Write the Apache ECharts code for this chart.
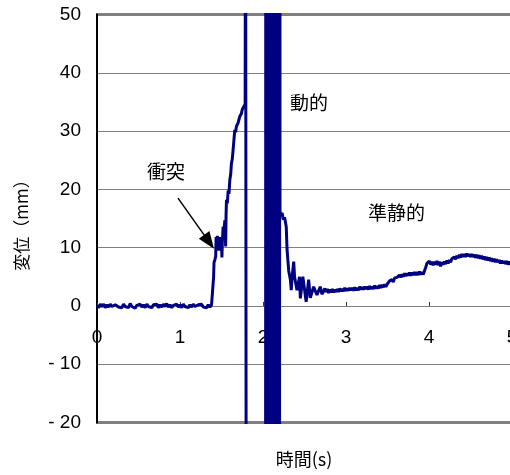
<!DOCTYPE html>
<html><head><meta charset="utf-8">
<script src="https://cdn.jsdelivr.net/npm/echarts@6/dist/echarts.min.js"></script>
<style>html,body{margin:0;padding:0;background:#fff}#c{width:510px;height:475px}</style>
</head><body><div id="c"></div>
<script>
// x: time (s), y: displacement (mm)
const xTicks = [0, 1, 2, 3, 4, 5];
const yTicks = [-20, -10, 0, 10, 20, 30, 40, 50];
const xName = '時間(s)';
const yName = '変位（mm）';
const notes = ['衝突', '動的', '準静的'];

// phase 1: before impact
const baselinePhase = [[0,0.1],[0.02,-0.3],[0.04,0.3],[0.06,-0.1],[0.08,0.3],[0.10,-0.3],[0.12,0.2],[0.14,-0.2],[0.16,0.3],[0.18,-0.1],[0.2,-0.4],[0.22,0.2],[0.24,0.3],[0.26,-0.2],[0.28,0.1],[0.30,-0.3],[0.32,0.3],[0.34,-0.1],[0.36,0.2],[0.38,-0.3],[0.4,0.4],[0.42,-0.1],[0.44,0.2],[0.46,-0.4],[0.48,0.1],[0.50,-0.2],[0.52,0.3],[0.54,-0.2],[0.56,0.2],[0.58,-0.3],[0.6,0.3],[0.62,-0.1],[0.64,0.2],[0.66,-0.3],[0.68,0.2],[0.70,-0.1],[0.72,0.3],[0.74,-0.3],[0.76,0.2],[0.78,-0.2],[0.8,0.3],[0.82,-0.1],[0.84,0.4],[0.86,-0.2],[0.88,0.2],[0.90,-0.3],[0.92,0.1],[0.94,-0.2],[0.96,0.3],[0.98,-0.2],[1.0,0.2],[1.02,-0.3],[1.04,0.3],[1.06,-0.1],[1.08,0.2],[1.10,-0.3],[1.12,0.2],[1.14,-0.2],[1.16,0.3],[1.18,-0.1],[1.2,-0.4],[1.22,0.2],[1.24,-0.1],[1.26,0.3],[1.28,-0.2],[1.30,0.1],[1.32,-0.3],[1.34,0.2],[1.36,-0.2],[1.38,0.2],[1.395,-0.1]];
// phase 2: impact rise
const impactPhase = [[1.40,0.2],[1.405,5],[1.41,7.5],[1.42,7.9],[1.43,8.5],[1.435,11.8],[1.44,10.6],[1.45,12.0],[1.46,10.4],[1.47,9.5],[1.48,11.8],[1.49,10.3],[1.50,11.6],[1.505,8.3],[1.51,11.0],[1.52,13.6],[1.53,12.8],[1.54,14.7],[1.55,10.2],[1.555,15.5],[1.56,18.2],[1.57,17.6],[1.58,19.8],[1.59,19.2],[1.60,21.6],[1.61,22.5],[1.62,24.5],[1.63,25.2],[1.64,26.8],[1.65,28.5],[1.66,30.2],[1.67,29.8],[1.68,30.8],[1.69,30.6],[1.70,31.4],[1.71,31.6],[1.72,32.5],[1.73,32.8],[1.74,33.0],[1.75,33.7],[1.76,33.6],[1.77,34.2],[1.785,34.6],[1.79,90],[1.80,-90],[1.9,-90],[2.03,-90]];
// phase 3: dynamic oscillation (off-scale)
const dynamicPhase = [[2.035,150],[2.041,-150],[2.047,150],[2.053,-150],[2.059,150],[2.065,-150],[2.071,150],[2.077,-150],[2.083,150],[2.089,-150],[2.095,150],[2.101,-150],[2.107,150],[2.113,-150],[2.119,150],[2.125,-150],[2.131,150],[2.137,-150],[2.143,150],[2.149,-150],[2.155,150],[2.161,-150],[2.167,150],[2.173,-150],[2.179,150],[2.185,-150],[2.191,150],[2.197,-150],[2.203,150]];
// phase 4: decay and quasi-static
const quasiStaticPhase = [[2.205,16.2],[2.22,15.5],[2.23,16.0],[2.245,14.8],[2.26,15.2],[2.28,13.6],[2.29,9.6],[2.31,6.0],[2.33,4.5],[2.34,2.7],[2.35,4.8],[2.37,7.6],[2.38,5.0],[2.41,2.7],[2.44,5.0],[2.45,1.3],[2.48,5.0],[2.52,0.7],[2.55,4.5],[2.57,1.4],[2.61,3.3],[2.65,1.9],[2.69,3.3],[2.71,2.0],[2.73,2.5],[2.745,3.0],[2.76,2.4],[2.775,2.9],[2.79,2.2],[2.805,2.8],[2.82,2.3],[2.835,2.9],[2.85,2.3],[2.865,2.8],[2.88,2.4],[2.895,2.9],[2.91,2.4],[2.925,3.0],[2.94,2.5],[2.955,2.9],[2.97,2.5],[2.985,3.1],[3.0,2.6],[3.015,3.0],[3.03,2.6],[3.045,3.1],[3.06,2.7],[3.075,3.1],[3.09,2.6],[3.105,3.2],[3.12,2.7],[3.135,3.1],[3.15,2.7],[3.165,3.3],[3.18,2.8],[3.195,3.2],[3.21,2.8],[3.225,3.3],[3.24,2.9],[3.255,3.3],[3.27,2.8],[3.285,3.4],[3.30,2.9],[3.315,3.3],[3.33,2.9],[3.345,3.5],[3.36,3.0],[3.375,3.4],[3.39,3.0],[3.405,3.6],[3.42,3.1],[3.435,3.6],[3.45,3.2],[3.465,3.7],[3.48,3.3],[3.495,3.7],[3.51,3.4],[3.525,4.3],[3.54,4.0],[3.555,4.5],[3.57,4.1],[3.585,4.8],[3.60,4.5],[3.615,4.9],[3.63,4.6],[3.645,5.3],[3.66,4.9],[3.675,5.4],[3.69,5.0],[3.705,5.6],[3.72,5.1],[3.735,5.6],[3.75,5.2],[3.765,5.7],[3.78,5.2],[3.795,5.7],[3.81,5.3],[3.825,5.8],[3.84,5.3],[3.855,5.8],[3.87,5.3],[3.885,5.9],[3.90,5.4],[3.915,5.8],[3.93,5.4],[3.945,6.0],[3.96,6.6],[3.975,7.3],[3.99,7.0],[4.005,7.7],[4.02,7.1],[4.035,7.6],[4.05,7.0],[4.065,7.6],[4.08,7.1],[4.095,7.7],[4.11,7.0],[4.125,7.6],[4.14,6.8],[4.155,7.5],[4.17,7.1],[4.185,7.6],[4.20,7.2],[4.215,7.8],[4.23,7.3],[4.245,7.9],[4.26,7.5],[4.275,8.1],[4.29,7.8],[4.305,8.4],[4.32,8.0],[4.335,8.6],[4.35,8.2],[4.365,8.8],[4.38,8.3],[4.395,8.9],[4.41,8.4],[4.425,8.9],[4.44,8.4],[4.455,9.0],[4.47,8.5],[4.485,8.9],[4.50,8.4],[4.515,8.9],[4.53,8.4],[4.545,8.8],[4.56,8.3],[4.575,8.8],[4.59,8.2],[4.605,8.7],[4.62,8.1],[4.635,8.6],[4.65,8.0],[4.665,8.5],[4.68,7.9],[4.695,8.4],[4.71,7.8],[4.725,8.3],[4.74,7.7],[4.755,8.2],[4.77,7.6],[4.785,8.1],[4.80,7.5],[4.815,8.0],[4.83,7.5],[4.845,7.9],[4.86,7.3],[4.875,7.8],[4.89,7.3],[4.905,7.7],[4.92,7.2],[4.935,7.7],[4.95,7.1],[4.965,7.6],[4.98,7.1],[5.0,7.4]];
// impact arrow: from (time, mm) to (time, mm)
const arrowFrom = [0.976, 18.5];
const arrowTo = [1.35, 11.0];

const series = baselinePhase.concat(impactPhase, dynamicPhase, quasiStaticPhase);

const chart = echarts.init(document.getElementById('c'), null, {renderer: 'canvas'});
const numFont = "'Liberation Sans', Arial, sans-serif";
const cjkFont = "'Noto Sans CJK JP', 'Liberation Sans', sans-serif";
const gridTop = 14.5, gridHeight = 408;
// place the x axis line at y = 0 (value axis crossing)
const zeroOffset = -gridHeight * (0 - yTicks[0]) / (yTicks[yTicks.length-1] - yTicks[0]);
chart.setOption({
  animation: false,
  backgroundColor: '#fff',
  grid: {left: 97, top: gridTop, width: 415, height: gridHeight, show: true, borderColor: '#000', borderWidth: 2, backgroundColor: 'transparent', containLabel: false, outerBoundsMode: 'none'},
  xAxis: {
    type: 'value', min: xTicks[0], max: xTicks[xTicks.length-1], interval: 1,
    position: 'bottom', offset: zeroOffset,
    axisLine: {show: true, onZero: false, lineStyle: {color: '#808080', width: 1}},
    axisTick: {show: true, inside: true, length: 4, lineStyle: {color: '#333'}},
    axisLabel: {fontFamily: numFont, fontSize: 19, color: '#000', margin: 22, showMinLabel: true, showMaxLabel: true},
    splitLine: {show: false}
  },
  yAxis: {
    type: 'value', min: yTicks[0], max: yTicks[yTicks.length-1], interval: 10,
    axisLine: {show: true, onZero: false, lineStyle: {color: '#000', width: 2}},
    axisTick: {show: false},
    axisLabel: {fontFamily: numFont, fontSize: 19, color: '#000', margin: 16,
      formatter: v => v < 0 ? '- ' + Math.abs(v) : String(v)},
    splitLine: {show: true, lineStyle: {color: '#808080', width: 1}}
  },
  graphic: [
    {type: 'text', left: 147, top: 162, style: {text: notes[0], font: '19px ' + cjkFont, fill: '#000'}},
    {type: 'text', left: 290, top: 93, style: {text: notes[1], font: '19px ' + cjkFont, fill: '#000'}},
    {type: 'text', left: 368, top: 203, style: {text: notes[2], font: '19px ' + cjkFont, fill: '#000'}},
    {type: 'text', x: 304, y: 459, style: {text: xName, font: '18px ' + cjkFont, fill: '#000', align: 'center', verticalAlign: 'middle'}},
    {type: 'text', x: 22, y: 221, rotation: Math.PI/2, style: {text: yName, font: '17px ' + cjkFont, fill: '#000', align: 'center', verticalAlign: 'middle'}}
  ],
  series: [{
    type: 'line', data: series, showSymbol: false, symbol: 'none', clip: true,
    lineStyle: {color: '#000080', width: 3},
    markLine: {
      silent: true, animation: false,
      symbol: ['none', 'triangle'], symbolSize: [13, 17],
      label: {show: false},
      lineStyle: {color: '#000', width: 1.5, type: 'solid'},
      data: [[{coord: arrowFrom}, {coord: arrowTo}]]
    }
  }]
});
</script></body></html>
